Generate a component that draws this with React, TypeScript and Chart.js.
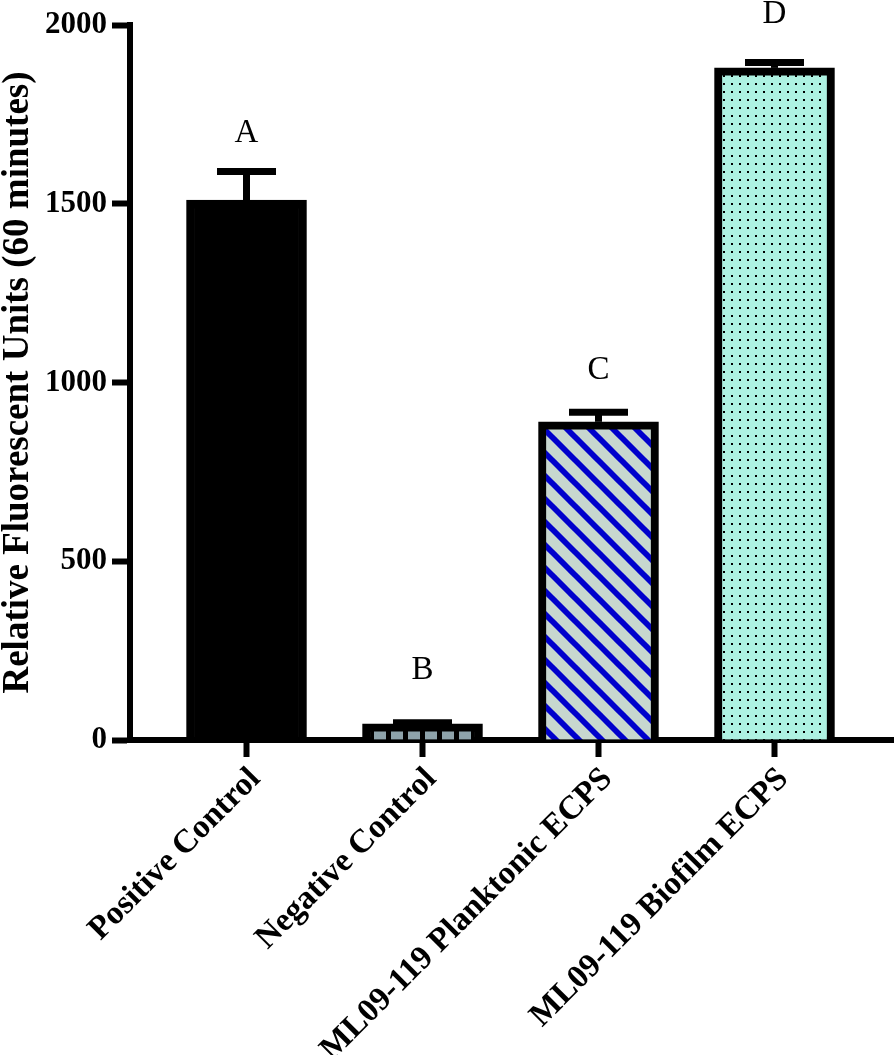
import React, { useEffect, useRef } from 'react';
import { Chart, registerables } from 'chart.js';

Chart.register(...registerables);

const categories = ['Positive Control', 'Negative Control', 'ML09-119 Planktonic ECPS', 'ML09-119 Biofilm ECPS'];
const means = [1510, 45, 890, 1880];
const errors = [80, 3, 27, 15];
const letters = ['A', 'B', 'C', 'D'];
const letterValues = [1698, 196, 1035, 2030];
const yTicks = [0, 500, 1000, 1500, 2000];

const FONT = '"Liberation Serif", "Times New Roman", serif';

function makePattern(size: number, draw: (c: CanvasRenderingContext2D) => void): CanvasPattern | string {
  const cv = document.createElement('canvas');
  cv.width = size;
  cv.height = size;
  const c = cv.getContext('2d');
  if (!c) return '#888';
  draw(c);
  const p = c.createPattern(cv, 'repeat');
  return p || '#888';
}

export default function App() {
  const ref = useRef<HTMLCanvasElement | null>(null);

  useEffect(() => {
    if (!ref.current) return;

    const negPattern = makePattern(17, (c) => {
      c.fillStyle = '#8ea3ab';
      c.fillRect(0, 0, 17, 17);
      c.fillStyle = '#000';
      c.fillRect(12, 0, 5, 17);
    });
    const plankPattern = makePattern(23, (c) => {
      c.fillStyle = '#c7d7cf';
      c.fillRect(0, 0, 23, 23);
      c.strokeStyle = '#0000cc';
      c.lineWidth = 5.8;
      c.lineCap = 'square';
      for (const off of [-23, 0, 23]) {
        c.beginPath();
        c.moveTo(off - 5, -5);
        c.lineTo(off + 28, 28);
        c.stroke();
      }
    });
    const bioPattern = makePattern(8, (c) => {
      c.fillStyle = '#aef2e2';
      c.fillRect(0, 0, 8, 8);
      c.fillStyle = '#000';
      c.fillRect(3, 3, 2, 2);
    });

    const overlay = {
      id: 'errorsAndLetters',
      afterDraw(chart: any) {
        const ctx = chart.ctx as CanvasRenderingContext2D;
        const xs = chart.scales.x;
        const ys = chart.scales.y;
        ctx.save();
        ctx.strokeStyle = '#000';
        ctx.fillStyle = '#000';
        means.forEach((m, i) => {
          const x = xs.getPixelForValue(i);
          const yTop = ys.getPixelForValue(m + errors[i]);
          const yBase = ys.getPixelForValue(m);
          ctx.lineWidth = 7;
          ctx.lineCap = 'butt';
          ctx.beginPath();
          ctx.moveTo(x, yBase);
          ctx.lineTo(x, yTop);
          ctx.stroke();
          ctx.beginPath();
          ctx.moveTo(x - 29.5, yTop);
          ctx.lineTo(x + 29.5, yTop);
          ctx.stroke();
        });
        ctx.font = `33px ${FONT}`;
        ctx.textAlign = 'center';
        ctx.textBaseline = 'middle';
        letters.forEach((l, i) => {
          ctx.fillText(l, xs.getPixelForValue(i), ys.getPixelForValue(letterValues[i]));
        });
        ctx.restore();
      },
    };

    const chart = new Chart(ref.current, {
      type: 'bar',
      data: {
        datasets: [
          {
            data: means.map((m, i) => ({ x: i, y: m })),
            backgroundColor: ['#000', negPattern, plankPattern, bioPattern] as any,
            borderColor: '#000',
            borderWidth: 8,
            barThickness: 120,
          },
        ],
      },
      options: {
        responsive: false,
        animation: false,
        devicePixelRatio: 1,
        layout: { padding: { top: 25, right: 0, left: 0, bottom: 0 } },
        plugins: { legend: { display: false }, tooltip: { enabled: false } },
        scales: {
          x: {
            type: 'linear',
            min: -0.662,
            max: 3.679,
            offset: false,
            z: 1,
            afterBuildTicks: (s: any) => {
              s.ticks = categories.map((_, i) => ({ value: i }));
            },
            afterFit: (s: any) => {
              s.height = 315;
            },
            ticks: {
              autoSkip: false,
              minRotation: 45,
              maxRotation: 45,
              padding: 3,
              labelOffset: 9,
              color: '#000',
              font: { family: FONT, size: 33, weight: 'bold' },
              callback: (_v: any, i: number) => categories[i],
            },
            grid: {
              display: true,
              drawOnChartArea: false,
              drawTicks: true,
              tickLength: 17,
              tickWidth: 6,
              tickColor: '#000',
              offset: false,
            },
            border: { display: true, width: 6, color: '#000' },
          },
          y: {
            type: 'linear',
            min: 0,
            max: 2000,
            afterBuildTicks: (s: any) => {
              s.ticks = yTicks.map((v) => ({ value: v }));
            },
            afterFit: (s: any) => {
              s.width = 130;
            },
            ticks: {
              padding: 5,
              color: '#000',
              font: { family: FONT, size: 31, weight: 'bold' },
              callback: (v: any) => String(v),
            },
            grid: {
              display: true,
              drawOnChartArea: false,
              drawTicks: true,
              tickLength: 18,
              tickWidth: 6,
              tickColor: '#000',
            },
            border: { display: true, width: 6, color: '#000' },
            title: {
              display: true,
              text: 'Relative Fluorescent Units (60 minutes)',
              color: '#000',
              padding: 0,
              font: { family: FONT, size: 37, weight: 'bold', lineHeight: 1 },
            },
          },
        },
      } as any,
      plugins: [overlay],
    });

    return () => chart.destroy();
  }, []);

  return (
    <div style={{ position: 'absolute', left: 0, top: 0, width: 894, height: 1055 }}>
      <canvas ref={ref} width={894} height={1055} style={{ width: 894, height: 1055 }} />
    </div>
  );
}
